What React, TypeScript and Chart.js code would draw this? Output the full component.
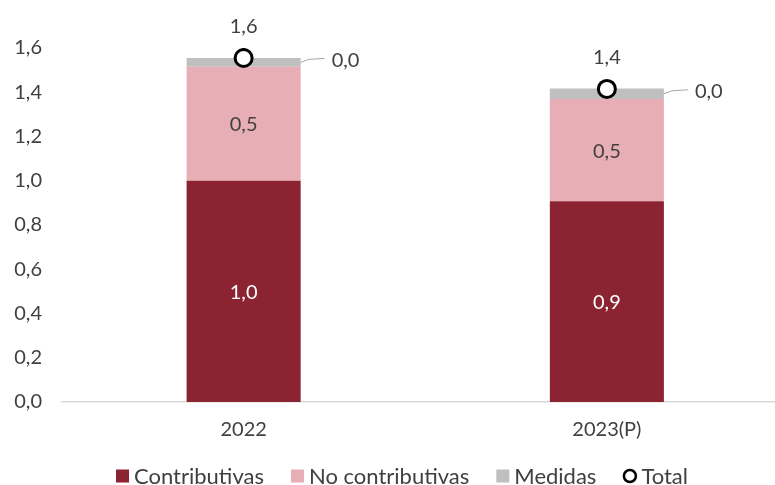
import React, { useEffect, useRef } from "react";
import { Chart, registerables } from "chart.js";

Chart.register(...registerables);

const categories = ["2022", "2023(P)"];
const contributivas = [1.0, 0.907];
const noContributivas = [0.515, 0.462];
const medidas = [0.04, 0.048];
const total = [1.555, 1.415];

const FONT = "Lato, 'Open Sans', sans-serif";
const TEXT = "#404040";

const fmt = (v: number) => v.toFixed(1).replace(".", ",");

const labelPlugin = {
  id: "labels",
  afterDatasetsDraw(chart: any) {
    const ctx = chart.ctx;
    ctx.save();
    ctx.font = `20px ${FONT}`;
    ctx.textBaseline = "middle";
    ctx.textAlign = "center";
    [0, 1].forEach((di) => {
      const meta = chart.getDatasetMeta(di);
      meta.data.forEach((el: any, i: number) => {
        const cy = (el.y + el.base) / 2;
        ctx.fillStyle = di === 0 ? "#FFFFFF" : TEXT;
        ctx.fillText(fmt(chart.data.datasets[di].data[i]), el.x, cy + 1);
      });
    });
    const mMeta = chart.getDatasetMeta(2);
    mMeta.data.forEach((el: any, i: number) => {
      const cy = (el.y + el.base) / 2;
      const right = el.x + el.width / 2;
      ctx.strokeStyle = "#A6A6A6";
      ctx.lineWidth = 1;
      ctx.beginPath();
      ctx.moveTo(right, cy);
      ctx.lineTo(right + 8, cy - 3);
      ctx.lineTo(right + 24, cy - 4);
      ctx.stroke();
      ctx.fillStyle = TEXT;
      ctx.textAlign = "left";
      ctx.fillText(fmt(chart.data.datasets[2].data[i]), right + 31, cy - 2);
    });
    const tMeta = chart.getDatasetMeta(3);
    ctx.textAlign = "center";
    tMeta.data.forEach((el: any, i: number) => {
      ctx.fillStyle = TEXT;
      ctx.fillText(fmt(chart.data.datasets[3].data[i]), el.x, el.y - 31);
    });
    ctx.restore();
  },
};

const legendPlugin = {
  id: "customLegend",
  afterDraw(chart: any) {
    const ctx = chart.ctx;
    const ds = chart.data.datasets;
    ctx.save();
    ctx.font = `22px ${FONT}`;
    ctx.textBaseline = "middle";
    ctx.textAlign = "left";
    const box = 13;
    const gapText = 5;
    const gapItem = 27;
    const widths = ds.map((d: any) => box + gapText + ctx.measureText(d.label).width);
    const totalW = widths.reduce((a: number, b: number) => a + b, 0) + gapItem * (ds.length - 1);
    let x = 402 - totalW / 2;
    const y = 476;
    ds.forEach((d: any, i: number) => {
      if (d.type === "line") {
        ctx.beginPath();
        ctx.arc(x + box / 2, y, 6, 0, Math.PI * 2);
        ctx.fillStyle = "#FFFFFF";
        ctx.fill();
        ctx.lineWidth = 2.5;
        ctx.strokeStyle = "#000000";
        ctx.stroke();
      } else {
        ctx.fillStyle = d.backgroundColor;
        ctx.fillRect(x, y - box / 2, box, box);
      }
      ctx.fillStyle = TEXT;
      ctx.fillText(d.label, x + box + gapText, y + 1);
      x += widths[i] + gapItem;
    });
    ctx.restore();
  },
};

export default function App() {
  const ref = useRef<HTMLCanvasElement>(null);
  useEffect(() => {
    if (!ref.current) return;
    const chart = new Chart(ref.current, {
      type: "bar",
      data: {
        labels: categories,
        datasets: [
          {
            label: "Contributivas",
            data: contributivas,
            backgroundColor: "#8B2332",
            categoryPercentage: 0.314,
            barPercentage: 1,
            order: 2,
          },
          {
            label: "No contributivas",
            data: noContributivas,
            backgroundColor: "#E8AEB5",
            categoryPercentage: 0.314,
            barPercentage: 1,
            order: 2,
          },
          {
            label: "Medidas",
            data: medidas,
            backgroundColor: "#BFBFBF",
            categoryPercentage: 0.314,
            barPercentage: 1,
            order: 2,
          },
          {
            type: "line",
            label: "Total",
            data: total,
            showLine: false,
            stack: "total",
            pointStyle: "circle",
            pointRadius: 8.5,
            pointBorderWidth: 3,
            borderWidth: 3,
            pointBackgroundColor: "#FFFFFF",
            backgroundColor: "#FFFFFF",
            borderColor: "#000000",
            pointBorderColor: "#000000",
            order: 1,
          } as any,
        ],
      },
      options: {
        responsive: false,
        animation: false,
        layout: { padding: { top: 48, right: 10, left: 0, bottom: 27 } },
        plugins: {
          legend: { display: false },
          tooltip: { enabled: false },
        },
        scales: {
          x: {
            stacked: true,
            grid: { display: false, drawTicks: false },
            border: { display: true, color: "#D9D9D9", width: 1.5 },
            ticks: { color: TEXT, padding: 16, font: { family: FONT, size: 20 } },
          },
          y: {
            stacked: true,
            min: 0,
            max: 1.6,
            grid: { display: false, drawTicks: false },
            border: { display: false },
            afterFit: (s: any) => {
              s.width = 62;
            },
            ticks: {
              stepSize: 0.2,
              color: TEXT,
              padding: 20,
              font: { family: FONT, size: 20 },
              callback: (v: any) => fmt(Number(v)),
            },
          },
        },
      },
      plugins: [labelPlugin, legendPlugin],
    });
    return () => chart.destroy();
  }, []);
  return (
    <div style={{ position: "fixed", left: 0, top: 0, width: 775, height: 485, overflow: "hidden", background: "#fff" }}>
      <canvas ref={ref} width={800} height={485} style={{ display: "block" }} />
    </div>
  );
}
